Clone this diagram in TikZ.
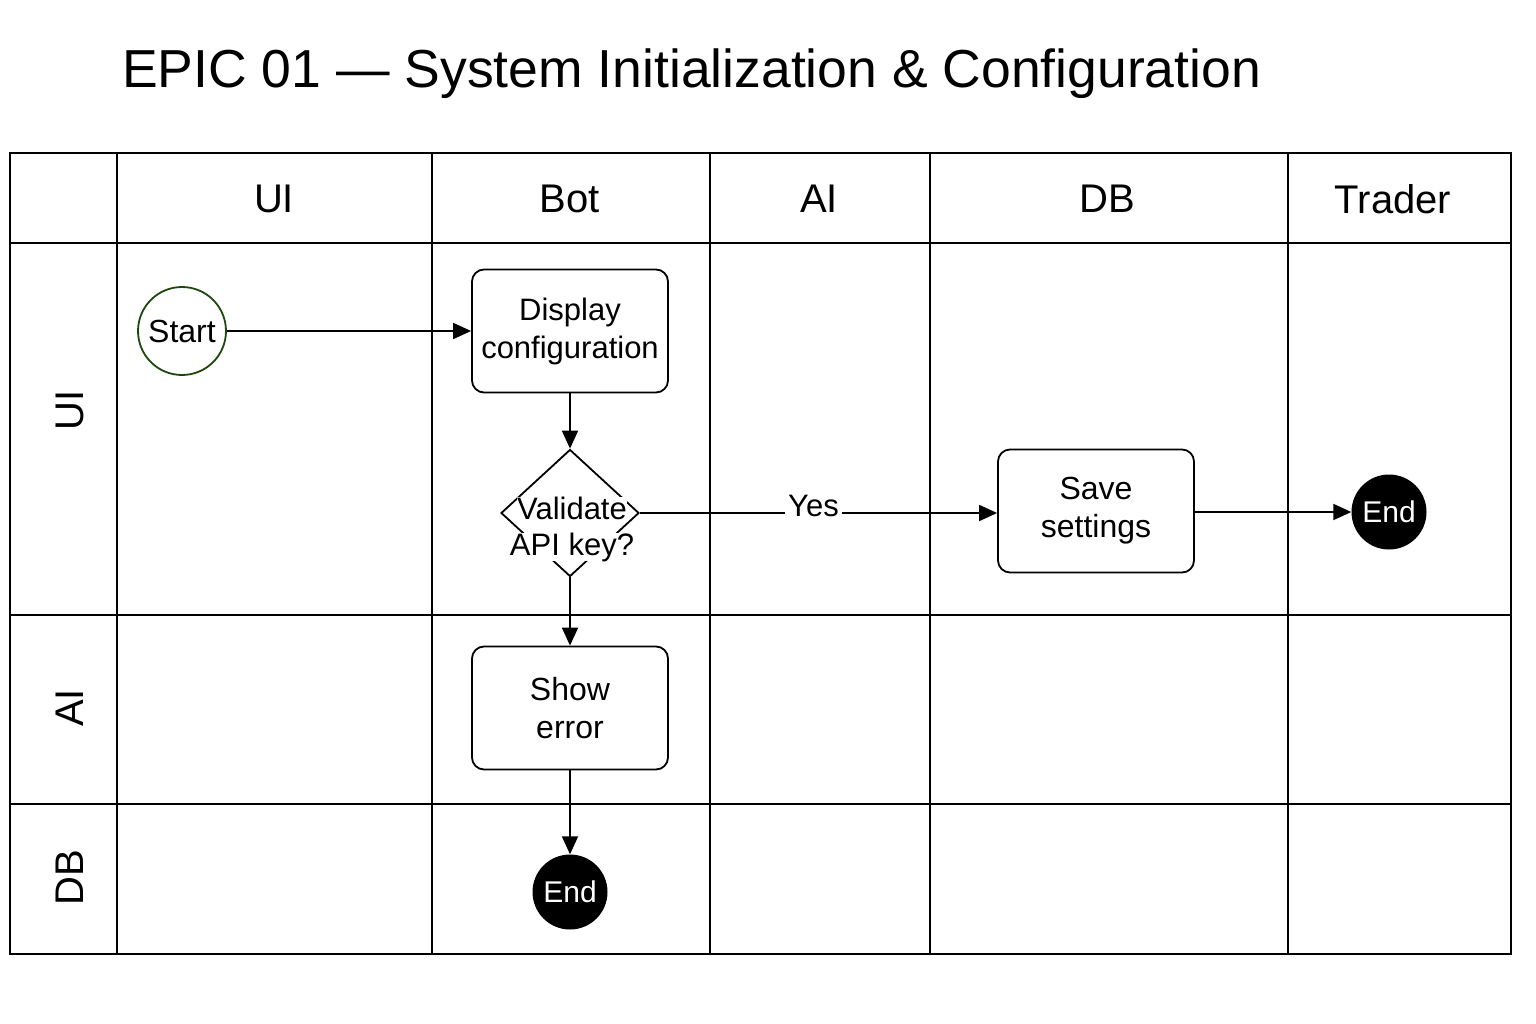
\documentclass[tikz,border=0pt]{standalone}
\usepackage{xcolor}
\usepackage{fontspec}
\setmainfont{Liberation Sans}
\usetikzlibrary{arrows.meta,shapes.geometric}

\definecolor{startgreen}{RGB}{28,72,14}

\tikzset{
  lane/.style={line width=2pt},
  task/.style={draw,line width=1.8pt,rounded corners=12pt,minimum width=196pt,minimum height=123pt,align=center,font=\fontsize{32}{38}\selectfont},
  endnode/.style={circle,fill=black,minimum size=75pt,inner sep=0pt,text=white,font=\fontsize{30}{34}\selectfont},
  flow/.style={line width=1.8pt,-{Triangle[length=18pt,width=16pt]}},
  lanetext/.style={font=\fontsize{40}{46}\selectfont},
  decisiontext/.style={fill=white,inner sep=0pt,font=\fontsize{31}{36}\selectfont}
}

\begin{document}
\begin{tikzpicture}[x=1pt,y=1pt,yscale=-1]
\useasboundingbox (0,0) rectangle (1536,1024);
% Title
\node [anchor=base west,inner sep=0pt,font=\fontsize{53.5}{60}\selectfont] (title) at (122,88) {EPIC 01 — System Initialization \& Configuration};
% Lanes
\draw [lane] (10,153) rectangle (1511,954);
\foreach \xx in {117,432,710,930,1288}
  \draw [lane] (\xx,153) -- (\xx,954);
\foreach \yy in {243,615,804}
  \draw [lane] (10,\yy) -- (1511,\yy);
% Lane titles
\node [lanetext] (colui) at (274,199) {UI};
\node [lanetext] (colbot) at (570,199) {Bot};
\node [lanetext] (colai) at (819,199) {AI};
\node [lanetext] (coldb) at (1107,199) {DB};
\node [lanetext] (coltrader) at (1393,199) {Trader};
\node [lanetext,rotate=90] (rowui) at (70,410) {UI};
\node [lanetext,rotate=90] (rowai) at (70,708) {AI};
\node [lanetext,rotate=90] (rowdb) at (70,878) {DB};
% Nodes
\node [circle,draw=startgreen,line width=1.8pt,minimum size=88pt,inner sep=0pt,font=\fontsize{32}{36}\selectfont] (start) at (182,331) {Start};
\node [task,font=\fontsize{31}{38}\selectfont] (display) at (570,331) {Display\\configuration};
\node [diamond,draw,line width=1.8pt,minimum width=138pt,minimum height=127pt,inner sep=0pt] (validate) at (570,513) {};
\node [decisiontext,anchor=base] (validatetop) at (572,519) {Validate};
\node [decisiontext,anchor=base] (validatebot) at (572,555) {API key?};
\node [task] (save) at (1096,511) {Save\\settings};
\node [task] (showerr) at (570,708) {Show\\error};
\node [endnode] (endok) at (1389,512) {End};
\node [endnode] (enderr) at (570,892) {End};
% Connectors
\draw [flow] (start) -- (display);
\draw [flow] (display) -- (validate.north);
\draw [flow] (validate.east) -- node [fill=white,inner sep=3pt,font=\fontsize{31}{36}\selectfont,xshift=-5pt,yshift=7pt] (yes) {Yes} (save.west |- validate.east);
\draw [flow] (save.east |- endok) -- (endok);
\draw [flow] (validate.south) -- (showerr);
\draw [flow] (showerr) -- (enderr);
\end{tikzpicture}
\end{document}
